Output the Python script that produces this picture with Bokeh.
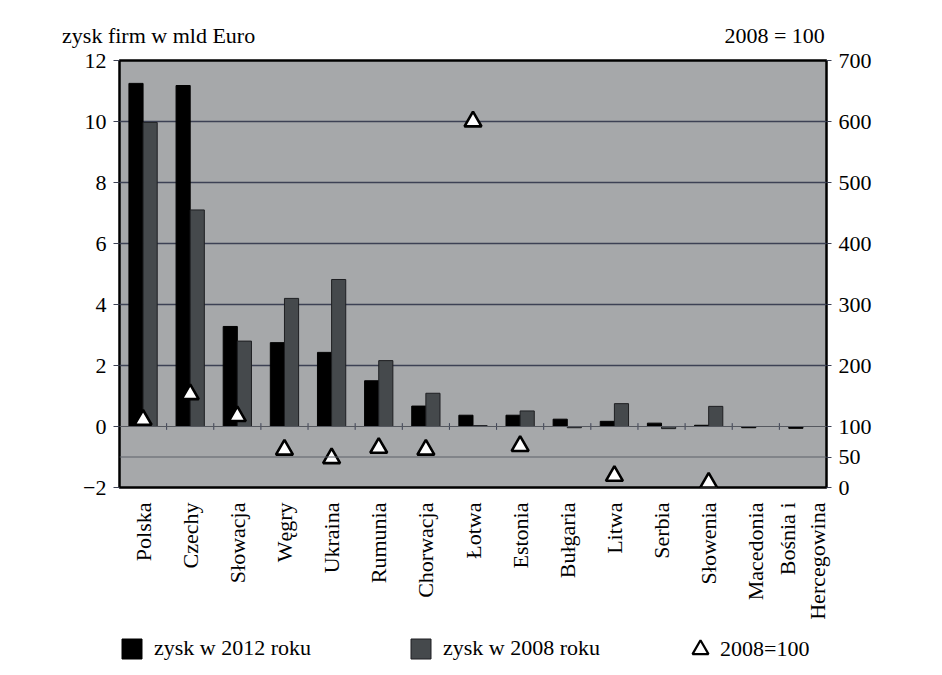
import numpy as np
from bokeh.plotting import figure
from bokeh.models import (Range1d, LinearAxis, FixedTicker, Legend, LegendItem,
                          ColumnDataSource, Span, Column)
from bokeh.embed import file_html
from bokeh.resources import INLINE

categories = ["Polska", "Czechy", "Słowacja", "Węgry", "Ukraina", "Rumunia",
              "Chorwacja", "Łotwa", "Estonia", "Bułgaria", "Litwa", "Serbia",
              "Słowenia", "Macedonia", "Bośnia i\nHercegowina"]
zysk_2012 = [11.25, 11.18, 3.28, 2.75, 2.43, 1.50, 0.67, 0.37, 0.37, 0.24,
             0.17, 0.11, 0.04, -0.04, -0.06]
zysk_2008 = [9.97, 7.10, 2.80, 4.20, 4.82, 2.16, 1.09, 0.03, 0.51, -0.04,
             0.75, -0.07, 0.66, 0.0, 0.0]
index_2008_100 = [111, 153, 117, 62, 48, 65, 62, 600, 68, np.nan, 19, np.nan,
                  8, np.nan, np.nan]

left_ticks = [-2, 0, 2, 4, 6, 8, 10, 12]
right_ticks = [0, 50, 100, 200, 300, 400, 500, 600, 700]
caption_left = "zysk firm w mld Euro"
caption_right = "2008 = 100"

FONT = "Liberation Serif"
FS = "22px"
BG = "#a6a8aa"
GRID = "#3c4154"
C2012 = "black"
C2008 = "#45494c"
W = 926

n = len(categories)
xc = np.arange(n) + 0.5
src = ColumnDataSource(dict(x12=xc - 0.15, x08=xc + 0.15, xc=xc,
                            v12=zysk_2012, v08=zysk_2008, idx=index_2008_100))

p = figure(width=W, height=622, x_range=Range1d(0, n), y_range=Range1d(-2, 12),
           output_backend="svg", toolbar_location=None,
           min_border_left=119, min_border_right=W - 826, min_border_top=60,
           min_border_bottom=134)
p.extra_y_ranges = {"right": Range1d(0, 700)}
p.background_fill_color = BG
p.outline_line_color = "black"
p.outline_line_width = 2.5

p.xgrid.grid_line_color = None
p.ygrid.ticker = FixedTicker(ticks=[2, 4, 6, 8, 10])
p.ygrid.grid_line_color = GRID
p.ygrid.grid_line_width = 1.4
p.add_layout(Span(location=-1, dimension="width", line_color="#5d6068", line_width=1))
p.add_layout(Span(location=0, dimension="width", line_color="#55585f", line_width=1.2))

p.vbar(x="x12", top="v12", bottom=0, width=0.3, source=src,
       fill_color=C2012, line_color="black", line_width=1)
p.vbar(x="x08", top="v08", bottom=0, width=0.3, source=src,
       fill_color=C2008, line_color="#1e1f22", line_width=1)

bnd = np.arange(1, n)
p.segment(x0=bnd, x1=bnd, y0=-0.11, y1=0.11, line_color=GRID, line_width=1)

p.scatter(x="xc", y="idx", y_range_name="right", source=src, marker="triangle",
          size=17, fill_color="white", line_color="black", line_width=2.6)

def style_axis(ax):
    ax.major_label_text_font = FONT
    ax.major_label_text_font_size = FS
    ax.major_label_text_color = "black"
    ax.axis_line_color = None
    ax.minor_tick_line_color = None

xa = p.xaxis[0]
style_axis(xa)
xa.ticker = FixedTicker(ticks=[float(v) for v in xc])
xa.major_label_overrides = {float(x): c for x, c in zip(xc, categories)}
xa.major_label_orientation = np.pi / 2
xa.major_tick_line_color = None
xa.major_label_standoff = 9

ya = p.yaxis[0]
style_axis(ya)
ya.ticker = FixedTicker(ticks=left_ticks)
ya.major_tick_line_color = GRID
ya.major_tick_out = 6
ya.major_tick_in = 0
ya.major_label_standoff = 7

ra = LinearAxis(y_range_name="right", ticker=FixedTicker(ticks=right_ticks))
style_axis(ra)
ra.major_tick_line_color = GRID
ra.major_tick_out = 5
ra.major_tick_in = 0
ra.major_label_standoff = 7
p.add_layout(ra, "right")

# captions above the frame, placed as labels of a tick-less top axis
cap_pos = [0.83, 13.9]
cap = LinearAxis(ticker=FixedTicker(ticks=cap_pos),
                 major_label_overrides={cap_pos[0]: caption_left, cap_pos[1]: caption_right})
style_axis(cap)
cap.major_tick_line_color = None
cap.major_label_standoff = 7
p.add_layout(cap, "above")

# ---- legend row
leg = figure(width=W, height=45, x_range=Range1d(0, 1), y_range=Range1d(0, 1),
             output_backend="svg", toolbar_location=None, x_axis_type=None,
             y_axis_type=None, min_border=0)
leg.outline_line_color = None
leg.grid.grid_line_color = None
leg.background_fill_alpha = 0
leg.border_fill_alpha = 0
lr12 = leg.vbar(x=[np.nan], top=[np.nan], width=0.1, fill_color=C2012, line_color="black")
lr08 = leg.vbar(x=[np.nan], top=[np.nan], width=0.1, fill_color=C2008, line_color="#1e1f22")
lrt = leg.scatter(x=[np.nan], y=[np.nan], marker="triangle", size=16, fill_color="white",
                  line_color="black", line_width=2.2)

def mk_legend(label, renderer, loc, gw, gh, standoff):
    lg = Legend(items=[LegendItem(label=label, renderers=[renderer])], location=loc,
                orientation="horizontal", glyph_width=gw, glyph_height=gh,
                label_text_font=FONT, label_text_font_size=FS, label_standoff=standoff,
                padding=0, margin=0, border_line_color=None, background_fill_alpha=0,
                label_height=25, label_text_color="black")
    leg.add_layout(lg, "center")

mk_legend("zysk w 2012 roku", lr12, (0, 6), 25, 25, 10)
mk_legend("zysk w 2008 roku", lr08, (289, 6), 25, 25, 10)
mk_legend("2008=100", lrt, (561, -1.5), 40, 40, -2)

layout = Column(children=[p, leg], spacing=0)
open("out.html", "w").write(file_html(layout, INLINE))
